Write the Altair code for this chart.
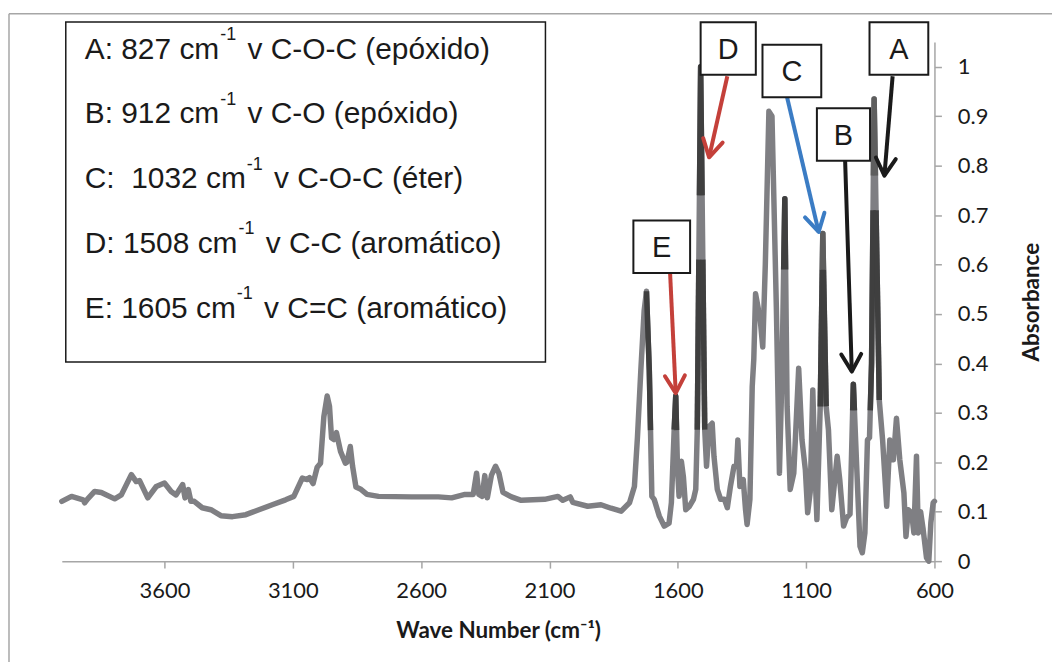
import math
import altair as alt
import pandas as pd

# ---------------- data ----------------
wavenumber = [4000, 3962, 3917, 3911, 3899, 3872, 3846, 3794, 3768, 3729, 3710, 3697, 3665, 3632,
              3600, 3574, 3555, 3529, 3520, 3507, 3497, 3484, 3453, 3419, 3380, 3335, 3283, 3232,
              3180, 3128, 3096, 3063, 3044, 3035, 3021, 3005, 2992, 2979, 2966, 2957, 2949, 2940,
              2930, 2914, 2895, 2889, 2876, 2867, 2854, 2837, 2811, 2766, 2637, 2533, 2481, 2429,
              2397, 2384, 2375, 2362, 2352, 2342, 2326, 2310, 2297, 2281, 2248, 2210, 2119, 2067,
              2048, 2019, 2009, 1951, 1899, 1860, 1821, 1788, 1769, 1757, 1744, 1731, 1722, 1711,
              1701, 1692, 1672, 1653, 1634, 1625, 1614, 1608, 1601, 1595, 1586, 1578, 1569, 1556,
              1539, 1530, 1524, 1511, 1495, 1488, 1478, 1466, 1459, 1446, 1433, 1418, 1407, 1395,
              1381, 1371, 1366, 1358, 1345, 1336, 1330, 1319, 1310, 1304, 1297, 1279, 1269, 1259,
              1245, 1233, 1216, 1204, 1194, 1183, 1174, 1162, 1148, 1129, 1116, 1103, 1094, 1084,
              1074, 1065, 1058, 1045, 1035, 1022, 1013, 1000, 979, 969, 954, 942, 929, 916, 903,
              890, 881, 871, 861, 853, 845, 835, 815, 802, 786, 774, 760, 748, 735, 719, 711, 702,
              689, 680, 670, 663, 654, 644, 631, 622, 614, 605, 600]
absorbance = [0.121, 0.131, 0.124, 0.118, 0.126, 0.141, 0.139, 0.126, 0.134, 0.175, 0.161, 0.163, 0.128, 0.151,
              0.158, 0.141, 0.134, 0.155, 0.128, 0.145, 0.121, 0.121, 0.108, 0.104, 0.092, 0.090, 0.094, 0.104,
              0.114, 0.124, 0.131, 0.168, 0.165, 0.169, 0.157, 0.190, 0.198, 0.292, 0.334, 0.313, 0.249, 0.246,
              0.260, 0.222, 0.198, 0.200, 0.232, 0.192, 0.150, 0.146, 0.135, 0.131, 0.130, 0.130, 0.128, 0.135,
              0.135, 0.178, 0.135, 0.131, 0.173, 0.128, 0.174, 0.192, 0.178, 0.139, 0.130, 0.123, 0.125, 0.131,
              0.123, 0.130, 0.119, 0.111, 0.114, 0.107, 0.101, 0.118, 0.151, 0.252, 0.386, 0.507, 0.546, 0.386,
              0.131, 0.125, 0.091, 0.071, 0.077, 0.118, 0.266, 0.334, 0.185, 0.131, 0.202, 0.170, 0.104, 0.110,
              0.125, 0.145, 0.266, 1.000, 0.266, 0.192, 0.272, 0.279, 0.212, 0.145, 0.125, 0.125, 0.108, 0.151,
              0.192, 0.192, 0.245, 0.151, 0.165, 0.104, 0.074, 0.125, 0.353, 0.407, 0.541, 0.490, 0.433, 0.600,
              0.910, 0.900, 0.514, 0.178, 0.380, 0.733, 0.313, 0.145, 0.178, 0.390, 0.245, 0.185, 0.098, 0.140,
              0.346, 0.178, 0.084, 0.313, 0.663, 0.313, 0.266, 0.104, 0.212, 0.165, 0.071, 0.088, 0.095, 0.358, 0.192,
              0.030, 0.017, 0.057, 0.245, 0.250, 0.400, 0.935, 0.326, 0.245, 0.111, 0.245, 0.205, 0.289, 0.205, 0.138, 0.050, 0.104,
              0.098, 0.057, 0.212, 0.057, 0.100, 0.064, 0.007, 0.000, 0.078, 0.118, 0.121]

x_ticks = [3600, 3100, 2600, 2100, 1600, 1100, 600]
y_ticks = [0, 0.1, 0.2, 0.3, 0.4, 0.5, 0.6, 0.7, 0.8, 0.9, 1]

legend_prefix = ["A: 827 cm", "B: 912 cm", "C: \u00a01032 cm", "D: 1508 cm", "E: 1605 cm"]
legend_sup = "-1"
legend_suffix = ["v C-O-C (epóxido)", "v C-O (epóxido)", "v C-O-C (éter)",
                 "v C-C (aromático)", "v C=C (aromático)"]

# peak call-outs (wavenumber / absorbance units)
peak_labels = ["D", "C", "B", "A", "E"]
box_left = [1511, 1270, 1058, 853, 1773]
box_right = [1296, 1041, 851, 624, 1552]
box_top = [1.090, 1.0445, 0.916, 1.090, 0.689]
box_bottom = [0.984, 0.9385, 0.810, 0.984, 0.583]
arrow_wn0 = [1407, 1174, 948, 763, 1630]
arrow_ab0 = [0.981, 0.938, 0.810, 0.981, 0.583]
arrow_wn1 = [1478, 1051, 922, 795, 1608]
arrow_ab1 = [0.817, 0.666, 0.3835, 0.780, 0.340]
arrow_color = ["#c4403a", "#3b7cc4", "#1a1a1a", "#1a1a1a", "#c4403a"]

# ---------------- layout / style ----------------
W, H = 876, 521
X_HI, X_LO, Y_TOP = 4000, 600, 1.05
GRAY, DARK, MID = "#7f7f83", "#3f3f3f", "#5e5e5e"
AXIS_GRAY = "#a6a6a6"
TXT = "#1a1a1a"
LINE_W = 5.5

# darker over-drawn parts of the highlighted peaks: (wn_hi, wn_lo, ab_lo, ab_hi, colour)
highlights = [
    (1722, 1701, 0.265, 1.2, DARK),
    (1614, 1601, 0.265, 1.2, DARK),
    (1524, 1495, 0.265, 0.61, DARK),
    (1524, 1495, 0.74, 1.2, DARK),
    (1194, 1174, 0.59, 1.2, DARK),
    (1045, 1022, 0.305, 0.59, DARK),
    (1045, 1022, 0.59, 1.2, MID),
    (929, 903, 0.305, 1.2, DARK),
    (853, 815, 0.305, 0.71, DARK),
    (853, 815, 0.78, 1.2, MID),
]


def clip_band(wn_hi, wn_lo, lo, hi):
    pts = [(w, a) for w, a in zip(wavenumber, absorbance) if wn_lo <= w <= wn_hi]
    lines, cur, open_end = [], [], False
    for (w0, a0), (w1, a1) in zip(pts[:-1], pts[1:]):
        if a1 == a0:
            ta, tb = (0.0, 1.0) if lo <= a0 <= hi else (1.0, 0.0)
        else:
            t1, t2 = (lo - a0) / (a1 - a0), (hi - a0) / (a1 - a0)
            ta, tb = max(0.0, min(t1, t2)), min(1.0, max(t1, t2))
        if ta >= tb:
            if cur:
                lines.append(cur)
            cur, open_end = [], False
            continue
        pa = (w0 + ta * (w1 - w0), a0 + ta * (a1 - a0))
        pb = (w0 + tb * (w1 - w0), a0 + tb * (a1 - a0))
        if cur and open_end and ta == 0.0:
            cur.append(pb)
        else:
            if cur:
                lines.append(cur)
            cur = [pa, pb]
        open_end = tb == 1.0
    if cur:
        lines.append(cur)
    return lines


ov_rows = []
seg = 0
for (wh, wl, lo, hi, col) in highlights:
    for line in clip_band(wh, wl, lo, hi):
        for k, (w, a) in enumerate(line):
            ov_rows.append({"seg": seg, "ord": k, "wn": w, "ab": a, "col": col})
        seg += 1
overlay = pd.DataFrame(ov_rows)


def px(wn):
    return (X_HI - wn) / (X_HI - X_LO) * W


def py(ab):
    return (Y_TOP - ab) / Y_TOP * H


arrows = pd.DataFrame({
    "wn": arrow_wn0, "ab": arrow_ab0, "wn2": arrow_wn1, "ab2": arrow_ab1, "col": arrow_color,
})
arrows["ang"] = [
    math.degrees(math.atan2(-(px(w1) - px(w0)), py(a1) - py(a0))) % 360
    for w0, a0, w1, a1 in zip(arrow_wn0, arrow_ab0, arrow_wn1, arrow_ab1)
]
heads = pd.DataFrame({"wn": arrow_wn1, "ab": arrow_ab1, "col": arrow_color, "ang": arrows["ang"]})

boxes = pd.DataFrame({"wn": box_left, "wn2": box_right, "ab": box_top, "ab2": box_bottom})
box_text = pd.DataFrame({
    "wn": [(a + b) / 2 for a, b in zip(box_left, box_right)],
    "ab": [(a + b) / 2 for a, b in zip(box_top, box_bottom)],
    "t": peak_labels,
})

# legend text laid out with Arial (Liberation Sans) advance widths
ARIAL = {' ': 278, '\u00a0': 278, ':': 278, '-': 333, '=': 584, '(': 333, ')': 333,
         'A': 667, 'B': 667, 'C': 722, 'D': 722, 'E': 667, 'O': 778, 'a': 556, 'c': 500,
         'd': 556, 'e': 556, 'i': 222, 'm': 833, 'o': 556, 'p': 556, 'r': 333, 't': 278,
         'v': 500, 'x': 500, 'á': 556, 'é': 556, 'ó': 556}


def tw(s, fs):
    return sum(ARIAL.get(ch, 556) for ch in s) / 1000 * fs


LEG_X, LEG_Y0, LEG_DY, LEG_FS, SUP_FS, SUP_RISE = 23, 16.5, 65, 30, 18, 18.5
leg_rows = []
for i, (pre, suf) in enumerate(zip(legend_prefix, legend_suffix)):
    base = LEG_Y0 + i * LEG_DY
    sx = LEG_X + tw(pre, LEG_FS) + 1
    fx = sx + tw(legend_sup, SUP_FS) + tw(" ", LEG_FS) + 3
    leg_rows.append({"px": LEG_X, "py": base, "t": pre, "k": "main"})
    leg_rows.append({"px": sx, "py": base - SUP_RISE, "t": legend_sup, "k": "sup"})
    leg_rows.append({"px": fx, "py": base, "t": suf, "k": "main"})
legend = pd.DataFrame(leg_rows)

# ---------------- encodings ----------------
x_scale = alt.Scale(domain=[X_HI, X_LO], nice=False, zero=False)
y_scale = alt.Scale(domain=[0, Y_TOP], nice=False, zero=False)
x_axis = alt.Axis(values=x_ticks, format="d", title="Wave Number (cm⁻¹)", grid=False, labelFlush=False,
                  labelOverlap=False, domainColor=AXIS_GRAY, domainWidth=1.5, tickColor=AXIS_GRAY,
                  tickWidth=1.5, tickSize=7, labelFont="Lato", labelFontSize=22, labelColor=TXT,
                  labelPadding=13, titleFont="Lato", titleFontSize=22.5, titleFontWeight="bold",
                  titleColor=TXT, titleX=438, titleY=70, titleAlign="center", titleBaseline="middle")
y_axis = alt.Axis(orient="right", values=y_ticks, format="~g", title="Absorbance", grid=False,
                  labelFlush=False, labelOverlap=False, domainColor=AXIS_GRAY, domainWidth=1.5,
                  tickColor=AXIS_GRAY, tickWidth=1.5, tickSize=7, labelFont="Lato", labelFontSize=22,
                  labelColor=TXT, labelPadding=16, labelAlign="left", titleFont="Lato",
                  titleFontSize=22.5, titleFontWeight="bold", titleColor=TXT, titleAngle=270,
                  titleX=97, titleY=H / 2, titleAlign="center", titleBaseline="middle")


def X(f="wn"):
    return alt.X(f"{f}:Q", scale=x_scale, axis=x_axis)


def Y(f="ab"):
    return alt.Y(f"{f}:Q", scale=y_scale, axis=y_axis)


spectrum = alt.Chart(pd.DataFrame({"wn": wavenumber, "ab": absorbance})).mark_line(
    color=GRAY, strokeWidth=LINE_W, strokeJoin="round", strokeCap="round"
).encode(x=X(), y=Y())

dark = alt.Chart(overlay).mark_line(strokeWidth=LINE_W, strokeJoin="round", strokeCap="butt").encode(
    x=X(), y=Y(), detail="seg:N", order="ord:Q", color=alt.Color("col:N", scale=None)
)

shafts = alt.Chart(arrows).mark_rule(strokeWidth=4).encode(
    x=X(), y=Y(), x2="wn2:Q", y2="ab2:Q", color=alt.Color("col:N", scale=None)
)
chevrons = alt.Chart(heads).mark_point(
    shape="M-0.5,-0.87L0,0L0.5,-0.87", size=1600, filled=False, strokeWidth=4,
    strokeCap="round", strokeJoin="round", opacity=1
).encode(x=X(), y=Y(), color=alt.Color("col:N", scale=None), angle=alt.Angle("ang:Q", scale=None))

box_rects = alt.Chart(boxes).mark_rect(fill="white", stroke=TXT, strokeWidth=2).encode(
    x=X(), x2="wn2:Q", y=Y(), y2="ab2:Q"
)
box_labels = alt.Chart(box_text).mark_text(
    font="Liberation Sans", fontSize=29, color=TXT, align="center", baseline="middle", dy=1
).encode(x=X(), y=Y(), text="t:N")

one = pd.DataFrame({"d": [0]})
legend_box = alt.Chart(one).mark_rect(fill="white", stroke=TXT, strokeWidth=1.5).encode(
    x=alt.value(4), x2=alt.value(485.5), y=alt.value(-20.3), y2=alt.value(321)
)
legend_main = alt.Chart(legend).transform_filter(alt.datum.k == "main").mark_text(
    font="Liberation Sans", fontSize=LEG_FS, color=TXT, align="left", baseline="alphabetic"
).encode(x=alt.X("px:Q", scale=None, axis=None), y=alt.Y("py:Q", scale=None, axis=None), text="t:N")
legend_supt = alt.Chart(legend).transform_filter(alt.datum.k == "sup").mark_text(
    font="Liberation Sans", fontSize=SUP_FS, color=TXT, align="left", baseline="alphabetic"
).encode(x=alt.X("px:Q", scale=None, axis=None), y=alt.Y("py:Q", scale=None, axis=None), text="t:N")

border_top = alt.Chart(one).mark_rule(color=AXIS_GRAY, strokeWidth=1.5).encode(
    x=alt.value(-53), x2=alt.value(1000), y=alt.value(-28.5), y2=alt.value(-28.5)
)
border_left = alt.Chart(one).mark_rule(color=AXIS_GRAY, strokeWidth=1.5).encode(
    x=alt.value(-53), y=alt.value(-28.5), y2=alt.value(700)
)

chart = alt.layer(
    spectrum, dark, shafts, chevrons, box_rects, box_labels,
    legend_box, legend_main, legend_supt, border_top, border_left
).properties(
    width=W, height=H,
    autosize=alt.AutoSizeParams(type="none"),
    padding={"left": 54, "top": 33, "right": 118, "bottom": 100},
    background="white",
).configure_view(strokeWidth=0)

chart.save("out.html", embed_options={"renderer": "svg", "actions": False})
